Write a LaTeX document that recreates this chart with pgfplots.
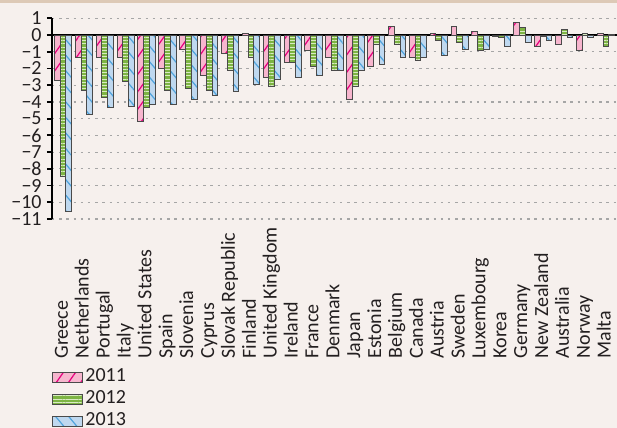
\documentclass[border=0pt]{standalone}
\usepackage{fontspec}
\setmainfont{Carlito}
\usepackage{pgfplots}
\usepackage{pgfplotstable}
\pgfplotsset{compat=1.18}
\usetikzlibrary{patterns.meta}
\definecolor{bg}{HTML}{F6F0ED}
\definecolor{topband}{HTML}{DDC9B6}
\definecolor{pinkF}{HTML}{F7B6CE}
\definecolor{pinkL}{HTML}{E6007E}
\definecolor{greenF}{HTML}{7DB443}
\definecolor{greenL}{HTML}{D9EBC2}
\definecolor{blueF}{HTML}{BFD8EF}
\definecolor{blueL}{HTML}{4FA3DC}
\definecolor{edge}{HTML}{4A4A4A}
\definecolor{gridc}{HTML}{A6A6A6}
\definecolor{txt}{HTML}{231F20}
\newcommand\lb[1]{\makebox[66pt][l]{\strut #1}}

\pgfplotstableread{
idx y2011 y2012 y2013
0 -2.7 -8.45 -10.55
1 -1.35 -3.3 -4.75
2 -1.35 -3.75 -4.35
3 -1.35 -2.8 -4.25
4 -5.15 -4.35 -4.15
5 -2.0 -3.3 -4.15
6 -0.85 -3.2 -3.85
7 -2.4 -3.3 -3.6
8 -1.1 -2.15 -3.35
9 0.1 -1.35 -2.95
10 -2.55 -3.05 -2.65
11 -1.65 -1.65 -2.55
12 -0.95 -1.9 -2.4
13 -1.35 -2.15 -2.15
14 -3.85 -3.05 -2.15
15 -1.9 -0.55 -1.75
16 0.5 -0.55 -1.35
17 -1.35 -1.5 -1.35
18 0.1 -0.3 -1.2
19 0.5 -0.45 -0.85
20 0.2 -0.95 -0.85
21 -0.1 -0.15 -0.7
22 0.75 0.45 -0.45
23 -0.7 -0.1 -0.3
24 -0.55 0.35 -0.15
25 -0.95 0.1 -0.15
26 0.1 -0.7 0.05
}\data

\begin{document}
\begin{tikzpicture}[font=\fontsize{10}{12}\selectfont, text=txt]
\fill[bg] (-26pt,-104.5pt) rectangle (282.5pt,109.5pt);
\fill[topband] (-26pt,108pt) rectangle (282.5pt,109.5pt);
\useasboundingbox (-26pt,-104.5pt) rectangle (282.5pt,109.5pt);
\begin{axis}[
  at={(0pt,0pt)}, anchor=south west, scale only axis,
  width=282.5pt, height=100.35pt,
  xmin=-0.53, xmax=26.53, ymin=-11, ymax=1,
  axis y line*=left, axis x line*=bottom,
  x axis line style={draw=none},
  y axis line style={black, line width=1.3pt, -},
  xtick style={draw=none},
  ytick style={black, line width=0.9pt},
  tick align=outside, major tick length=2.5pt,
  ytick={-11,-10,-9,-8,-7,-6,-5,-4,-3,-2,-1,0,1},
  yticklabels={−11,−10,−9,−8,−7,−6,−5,−4,−3,−2,−1,0,1},
  yticklabel style={inner sep=0pt, xshift=-2.5pt},
  ymajorgrids,
  grid style={gridc, line width=0.6pt, dash pattern=on 1.2pt off 2.4pt},
  extra y ticks={0}, extra y tick labels={},
  extra y tick style={grid style={black, line width=1.3pt, solid}},
  xtick={0,...,26},
  xticklabels={\lb{Greece},\lb{Netherlands},\lb{Portugal},\lb{Italy},\lb{United States},\lb{Spain},\lb{Slovenia},\lb{Cyprus},\lb{Slovak Republic},\lb{Finland},\lb{United Kingdom},\lb{Ireland},\lb{France},\lb{Denmark},\lb{Japan},\lb{Estonia},\lb{Belgium},\lb{Canada},\lb{Austria},\lb{Sweden},\lb{Luxembourg},\lb{Korea},\lb{Germany},\lb{New Zealand},\lb{Australia},\lb{Norway},\lb{Malta}},
  xticklabel style={rotate=90, anchor=east, inner sep=0pt},
  xticklabel shift=1pt,
  ybar=0pt, bar width=2.9pt,
  legend image code/.code={\draw[#1] (0pt,-2.6pt) rectangle (15pt,2.6pt);},
  legend style={at={(0,0)}, anchor=north west, yshift=-73.5pt, draw=none, fill=none,
    inner sep=0pt, row sep=0pt,
    nodes={inner sep=1pt, text height=6.5pt, text depth=2.5pt, anchor=west},
    /tikz/every even column/.append style={column sep=4.5pt}},
  legend cell align=left,
]
\addplot[draw=edge, line width=0.5pt, fill=pinkF,
  postaction={pattern={Lines[angle=55,distance=5pt,line width=0.6pt]}, pattern color=pinkL}]
  table[x=idx, y=y2011] {\data};
\addlegendentry{2011}
\addplot[draw=edge, line width=0.5pt, fill=greenF,
  postaction={pattern={Lines[angle=0,distance=1.6pt,line width=0.5pt]}, pattern color=greenL}]
  table[x=idx, y=y2012] {\data};
\addlegendentry{2012}
\addplot[draw=edge, line width=0.5pt, fill=blueF,
  postaction={pattern={Lines[angle=-50,distance=5pt,line width=0.6pt]}, pattern color=blueL}]
  table[x=idx, y=y2013] {\data};
\addlegendentry{2013}
\end{axis}
\end{tikzpicture}
\end{document}
